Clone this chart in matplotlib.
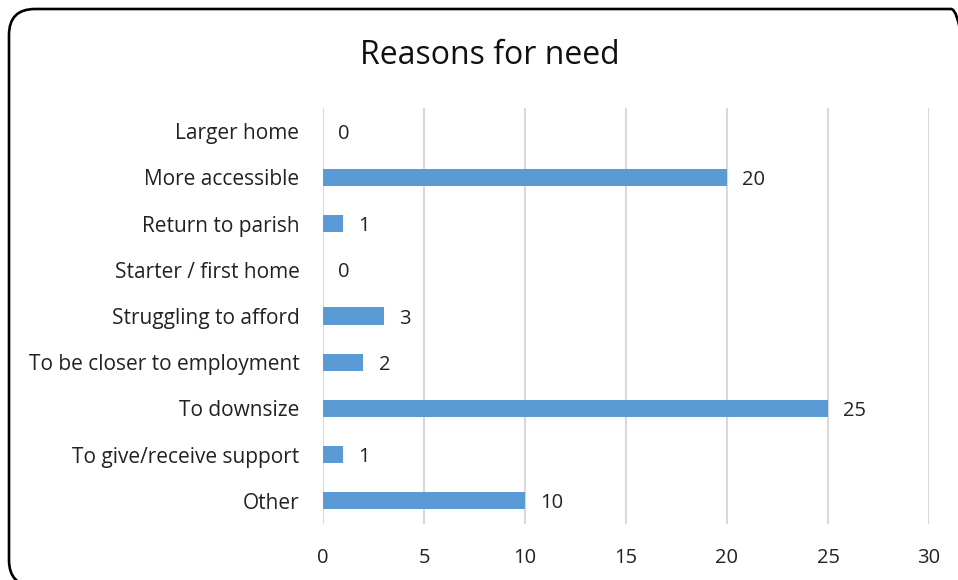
import matplotlib.pyplot as plt
from matplotlib.patches import FancyBboxPatch

categories = ['Larger home', 'More accessible', 'Return to parish', 'Starter / first home',
              'Struggling to afford', 'To be closer to employment', 'To downsize',
              'To give/receive support', 'Other']
counts = [0, 20, 1, 0, 3, 2, 25, 1, 10]
xticks = [0, 5, 10, 15, 20, 25, 30]

plt.rcParams['font.family'] = ['Open Sans', 'DejaVu Sans']

fig = plt.figure(figsize=(9.58, 5.80), dpi=100)
ax = fig.add_axes([323 / 958, 1 - 524 / 580, (929 - 323) / 958, (524 - 108) / 580])

ypos = list(range(len(categories)))
ax.barh(ypos, counts, height=0.37, color='#5b9bd5', zorder=3)
for y, v in zip(ypos, counts):
    ax.text(v + 0.75, y, str(v), va='center_baseline', ha='left', fontsize=14.5,
            color='#222222')

ax.set_yticks(ypos)
ax.set_yticklabels(categories, fontsize=15, color='#222222')
ax.set_ylim(len(categories) - 0.5, -0.5)
ax.set_xlim(0, 30)
ax.set_xticks(xticks)
ax.set_xticklabels([str(t) for t in xticks], fontsize=14.5, color='#222222')
ax.tick_params(axis='both', length=0)
ax.tick_params(axis='y', pad=17)
ax.tick_params(axis='x', pad=17)
ax.grid(axis='x', color='#d9d9d9', linewidth=1.5, zorder=0)
for s in ax.spines.values():
    s.set_visible(False)

fig.text(490 / 958, 1 - 55 / 580, 'Reasons for need', ha='center', va='center',
         fontsize=23, color='#111111')

# rounded frame around the chart (runs off the right and bottom edges)
box = FancyBboxPatch((0.09, -0.06), 9.68, 5.77, boxstyle='round,pad=0,rounding_size=0.26',
                     transform=fig.dpi_scale_trans, fill=False, edgecolor='black',
                     linewidth=1.9)
fig.patches.append(box)

fig.savefig('out.png', dpi=100)
